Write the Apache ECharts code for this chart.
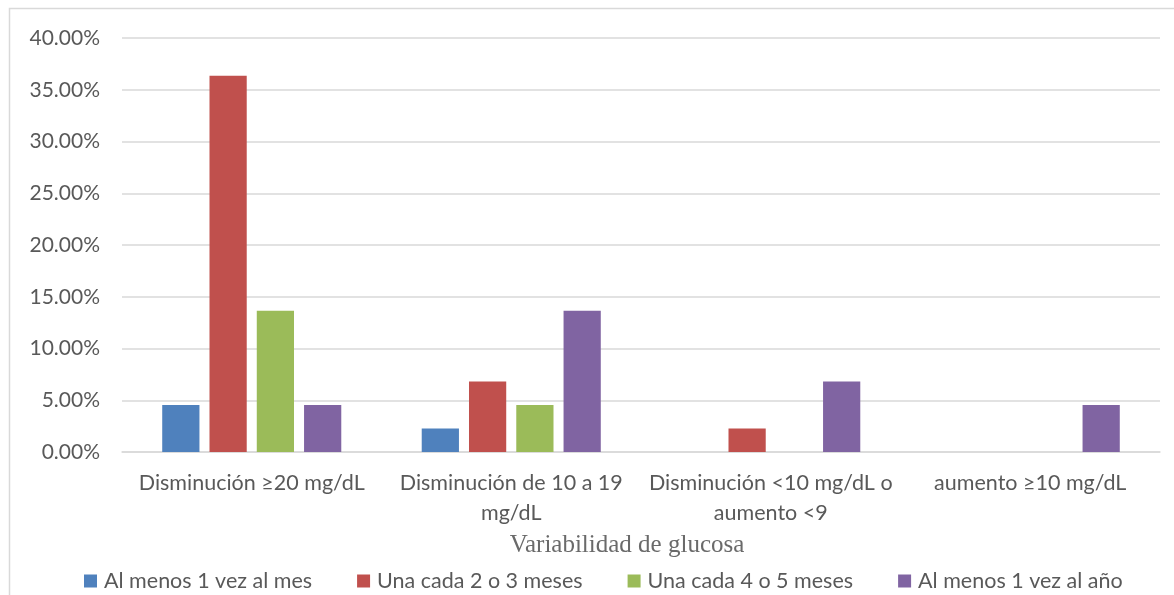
<!DOCTYPE html>
<html>
<head>
<meta charset="utf-8">
<script src="https://cdn.jsdelivr.net/npm/echarts@6/dist/echarts.min.js"></script>
<style>
  html, body { margin: 0; padding: 0; background: #fff; }
  #chart { width: 1174px; height: 595px; }
</style>
</head>
<body>
<div id="chart"></div>
<script>
// Glucose variability categories (x axis)
const categories = [
  'Disminución ≥20 mg/dL',
  'Disminución de 10 a 19\nmg/dL',
  'Disminución <10 mg/dL o\naumento <9',
  'aumento ≥10 mg/dL'
];

// Series names (monitoring frequency)
const seriesNames = [
  'Al menos 1 vez al mes',
  'Una cada 2 o 3 meses',
  'Una cada 4 o 5 meses',
  'Al menos 1 vez al año'
];

// Percentages per series, one value per category
const alMenosMes   = [4.55, 2.27, 0, 0];
const cada2o3      = [36.36, 6.82, 2.27, 0];
const cada4o5      = [13.64, 4.55, 0, 0];
const alMenosAnio  = [4.55, 13.64, 6.82, 4.55];

// Y axis ticks
const yMin = 0, yMax = 40, yStep = 5;

const colors = ['#4F81BD', '#C0504D', '#9BBB59', '#8064A2'];
const seriesData = [alMenosMes, cada2o3, cada4o5, alMenosAnio];

const labelFont = 'Lato, "Open Sans", sans-serif';

const chart = echarts.init(document.getElementById('chart'), null, { renderer: 'canvas' });

chart.setOption({
  animation: false,
  backgroundColor: '#ffffff',
  color: colors,
  grid: { left: 122, right: 14, top: 38, bottom: 143, containLabel: false },
  xAxis: {
    type: 'category',
    data: categories,
    axisTick: { show: false },
    axisLine: { show: true, lineStyle: { color: '#d9d9d9', width: 1.5 } },
    axisLabel: {
      color: '#595959',
      fontFamily: labelFont,
      fontSize: 21.5,
      lineHeight: 30,
      margin: 16,
      interval: 0
    }
  },
  yAxis: {
    type: 'value',
    min: yMin,
    max: yMax,
    interval: yStep,
    axisLine: { show: false },
    axisTick: { show: false },
    splitLine: { lineStyle: { color: '#d9d9d9', width: 1.5 } },
    axisLabel: {
      color: '#595959',
      fontFamily: labelFont,
      fontSize: 21,
      margin: 22,
      formatter: v => v.toFixed(2) + '%'
    }
  },
  legend: {
    left: 84,
    top: 570,
    padding: 0,
    itemWidth: 13,
    itemHeight: 13,
    itemGap: 45,
    icon: 'rect',
    textStyle: { color: '#595959', fontFamily: labelFont, fontSize: 21.5, padding: [0, 0, 0, 2] },
    data: seriesNames
  },
  graphic: [
    {
      type: 'rect',
      shape: { x: 9.5, y: 8.5, width: 1300, height: 800 },
      style: { fill: 'none', stroke: '#d9d9d9', lineWidth: 1.5 },
      silent: true
    },
    {
      type: 'text',
      x: 627,
      y: 545,
      style: {
        text: 'Variabilidad de glucosa',
        fill: '#6a6a6a',
        font: '25px "Liberation Serif", "DejaVu Serif", serif',
        textAlign: 'center',
        textVerticalAlign: 'middle'
      },
      silent: true
    }
  ],
  series: seriesNames.map((name, i) => ({
    name: name,
    type: 'bar',
    data: seriesData[i],
    barGap: '27%',
    barCategoryGap: '31%',
    itemStyle: { color: colors[i] }
  }))
});
</script>
</body>
</html>
